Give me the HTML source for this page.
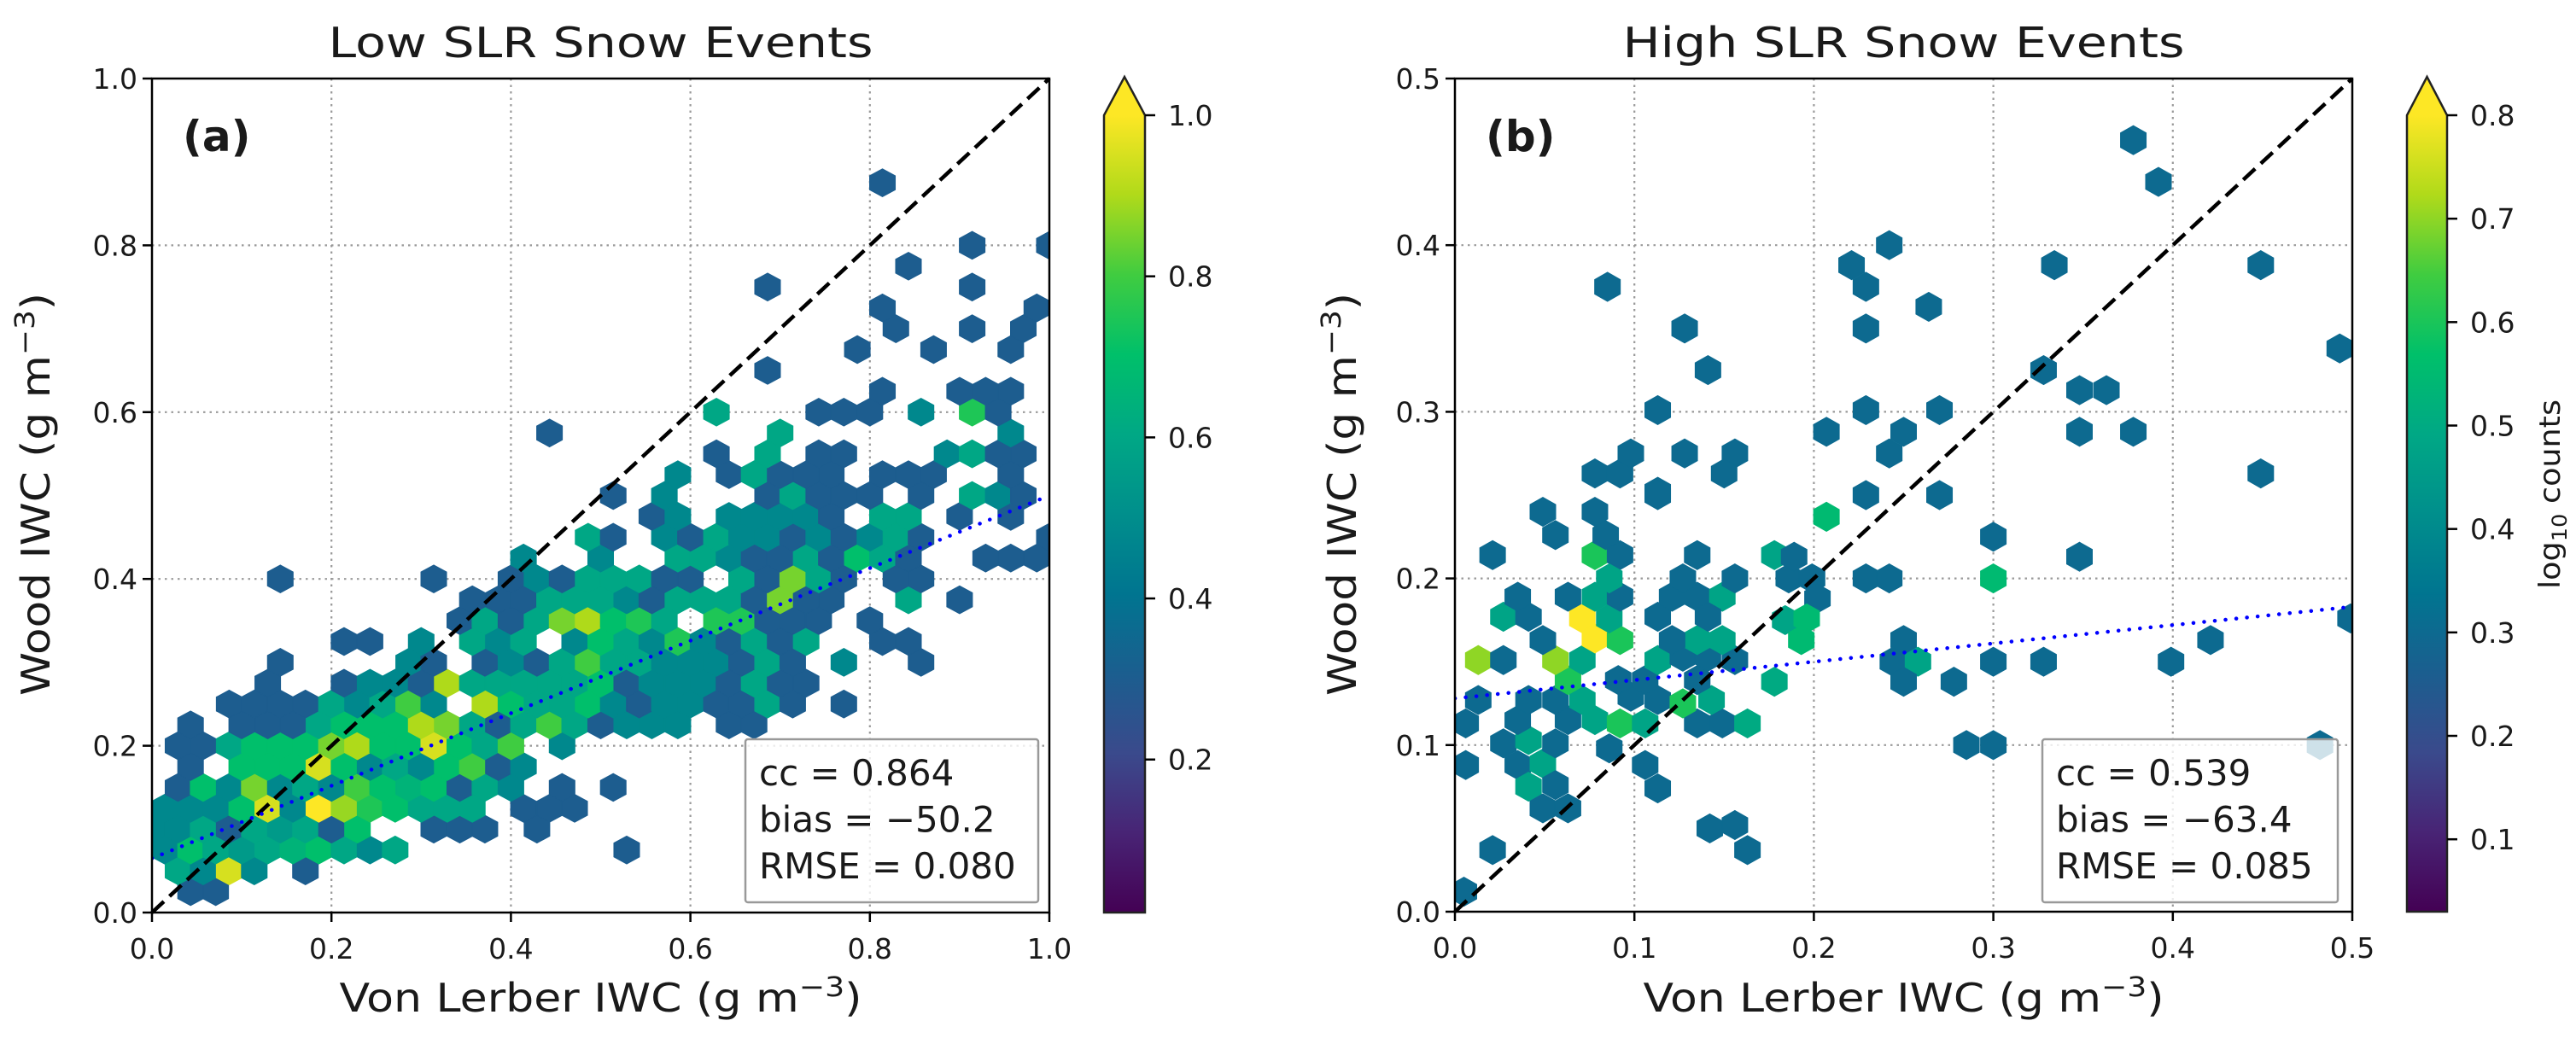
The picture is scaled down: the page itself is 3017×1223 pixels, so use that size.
<!DOCTYPE html>
<html>
<head>
<meta charset="utf-8">
<style>
  html,body{margin:0;padding:0;background:#fff;}
  svg{display:block;}
  text{font-family:"DejaVu Sans","Liberation Sans",sans-serif;fill:#1a1a1a;}
</style>
</head>
<body>
<svg id="fig" width="3017" height="1223" viewBox="0 0 3017 1223" xmlns="http://www.w3.org/2000/svg">
  <defs>
    <clipPath id="clipA"><rect x="178" y="92" width="1051" height="977"/></clipPath>
    <clipPath id="clipB"><rect x="1704" y="92" width="1051" height="976"/></clipPath>
    <linearGradient id="viridisGrad" x1="0" y1="1" x2="0" y2="0">
      <stop offset="0" stop-color="#440154"/><stop offset="0.1" stop-color="#482475"/>
      <stop offset="0.2" stop-color="#3a4a8c"/><stop offset="0.3" stop-color="#1b5e8f"/>
      <stop offset="0.4" stop-color="#007590"/><stop offset="0.5" stop-color="#008f8c"/>
      <stop offset="0.6" stop-color="#00a885"/><stop offset="0.7" stop-color="#00c06a"/>
      <stop offset="0.8" stop-color="#40cc40"/><stop offset="0.9" stop-color="#b0da1a"/>
      <stop offset="1" stop-color="#fde725"/>
    </linearGradient>
  </defs>
  <g id="panelA"></g>
  <g id="panelB"></g>
</svg>
<script>
// ---------- Panel (a) data: hexbin rows (bin-centre y, bin-centre x list, log10 counts) ----------
const lowRowY = [0.025,0.05,0.075,0.1,0.125,0.15,0.175,0.2,0.225,0.25,0.275,0.3,0.325,0.35,0.375,0.4,0.425,0.45,0.475,0.5,0.525,0.55,0.575,0.6,0.625,0.65,0.675,0.7,0.725,0.75,0.775,0.8,0.875];
const lowRowX = [
 [.043,.071],
 [.029,.057,.086,.114,.171],
 [.014,.043,.071,.1,.129,.157,.186,.214,.243,.271,.529],
 [0,.029,.057,.086,.114,.143,.171,.2,.229,.314,.343,.371,.429],
 [.014,.043,.071,.1,.129,.157,.186,.214,.243,.271,.3,.329,.357,.414,.443,.471],
 [.029,.057,.086,.114,.143,.171,.2,.229,.257,.286,.314,.343,.371,.4,.457,.514],
 [.043,.1,.129,.157,.186,.214,.243,.271,.3,.329,.357,.386,.414],
 [.029,.057,.086,.114,.143,.171,.2,.229,.257,.286,.314,.343,.371,.4,.457],
 [.043,.1,.129,.157,.186,.214,.243,.271,.3,.329,.357,.386,.414,.443,.471,.5,.529,.557,.586,.643,.671],
 [.086,.114,.143,.171,.2,.229,.257,.286,.314,.371,.4,.429,.457,.486,.514,.543,.571,.6,.629,.657,.686,.714,.771],
 [.129,.214,.243,.271,.3,.329,.357,.386,.414,.443,.471,.5,.529,.557,.586,.614,.643,.671,.7,.729],
 [.143,.286,.314,.371,.4,.429,.457,.486,.514,.543,.571,.6,.629,.657,.686,.714,.771,.857],
 [.214,.243,.3,.357,.386,.414,.471,.5,.529,.557,.586,.614,.643,.671,.7,.729,.814,.843],
 [.343,.371,.4,.429,.457,.486,.514,.543,.571,.629,.657,.686,.714,.743,.8],
 [.357,.386,.414,.443,.471,.5,.529,.557,.586,.614,.643,.671,.7,.729,.757,.843,.9],
 [.143,.314,.4,.429,.457,.486,.514,.543,.571,.6,.657,.686,.714,.743,.771,.829,.857],
 [.414,.5,.586,.614,.643,.671,.7,.729,.757,.786,.814,.843,.929,.957,.986],
 [.486,.514,.571,.6,.629,.657,.686,.714,.743,.771,.8,.829,.857,1.0],
 [.557,.586,.643,.671,.7,.729,.757,.814,.843,.9,.957],
 [.514,.571,.686,.714,.743,.771,.8,.857,.914,.943,.971],
 [.586,.643,.671,.7,.729,.757,.814,.843,.871,.957],
 [.629,.686,.743,.771,.886,.914,.943,.971],
 [.443,.7,.957],
 [.629,.743,.771,.8,.857,.914,.943],
 [.814,.9,.929,.957],
 [.686],
 [.786,.871,.957],
 [.829,.914,.971],
 [.814,.986],
 [.686,.914],
 [.843],
 [.914,1.0],
 [.814]
];
const lowRowV = [
 [.3,.3],
 [.6,.48,.95,.48,.3],
 [.48,.7,.6,.55,.6,.65,.7,.6,.48,.6,.3],
 [.48,.48,.6,.3,.6,.55,.6,.3,.7,.3,.3,.3,.3],
 [.48,.48,.48,.7,.95,.48,1,.88,.75,.7,.6,.6,.6,.3,.3,.3],
 [.3,.7,.48,.85,.48,.6,.48,.8,.7,.65,.7,.3,.6,.48,.3,.3],
 [.3,.7,.7,.7,.95,.7,.48,.6,.48,.7,.8,.3,.48],
 [.3,.3,.6,.7,.7,.7,.85,.9,.7,.7,.95,.7,.6,.8,.48],
 [.3,.3,.3,.3,.6,.7,.7,.7,.9,.85,.6,.3,.6,.8,.6,.3,.48,.48,.48,.3,.3],
 [.3,.3,.3,.3,.6,.48,.6,.8,.48,.9,.7,.6,.6,.7,.48,.3,.48,.48,.3,.3,.6,.3,.3],
 [.3,.3,.48,.48,.3,.9,.6,.6,.6,.6,.6,.7,.3,.48,.48,.48,.3,.6,.3,.3],
 [.3,.48,.3,.3,.48,.3,.6,.8,.6,.6,.48,.48,.48,.3,.6,.3,.48,.3],
 [.3,.3,.48,.6,.48,.6,.48,.7,.6,.48,.75,.48,.3,.6,.3,.6,.3,.3],
 [.3,.6,.3,.6,.85,.9,.7,.75,.6,.75,.75,.3,.3,.3,.3],
 [.3,.3,.3,.6,.6,.6,.48,.3,.6,.6,.6,.3,.85,.3,.3,.6,.3],
 [.3,.3,.3,.48,.3,.6,.6,.6,.3,.3,.6,.3,.85,.6,.3,.3,.3],
 [.48,.48,.6,.6,.48,.3,.3,.6,.3,.7,.6,.3,.3,.3,.3],
 [.6,.3,.48,.3,.6,.48,.48,.3,.48,.3,.48,.6,.3,.3],
 [.3,.48,.48,.48,.48,.48,.3,.6,.6,.3,.3],
 [.3,.48,.3,.6,.3,.3,.3,.3,.6,.48,.3],
 [.48,.3,.6,.3,.3,.3,.3,.3,.3,.3],
 [.3,.6,.3,.3,.48,.6,.3,.3],
 [.3,.6,.48],
 [.6,.3,.3,.3,.48,.75,.3],
 [.3,.3,.3,.3],
 [.3],
 [.3,.3,.3],
 [.3,.3,.3],
 [.3,.3],
 [.3,.3],
 [.3],
 [.3,.3],
 [.3]
];
// ---------- Panel (b) data: hexbin bin centres and log10 counts ----------
const highX = [0.005,0.021,0.006,0.035,0.049,0.041,0.056,0.049,0.063,0.027,0.041,0.056,0.086,0.106,0.113,0.142,0.156,0.163,0.006,0.035,0.063,0.078,0.092,0.106,0.135,0.149,0.163,0.013,0.041,0.056,0.071,0.098,0.113,0.127,0.143,0.063,0.091,0.106,0.135,0.178,0.013,0.027,0.056,0.071,0.113,0.127,0.141,0.156,0.027,0.041,0.049,0.071,0.078,0.092,0.086,0.035,0.063,0.078,0.092,0.113,0.121,0.135,0.149,0.135,0.149,0.121,0.141,0.135,0.156,0.127,0.178,0.186,0.184,0.078,0.092,0.084,0.078,0.049,0.056,0.021,0.086,0.113,0.078,0.092,
 0.378,0.392,0.242,0.334,0.449,0.221,0.229,0.085,0.264,0.128,0.229,0.493,0.141,0.328,0.348,0.363,0.113,0.229,0.270,0.207,0.250,0.348,0.378,0.098,0.128,0.156,0.242,0.150,0.449,0.113,0.229,0.270,0.207,0.300,0.348,0.300,0.229,0.242,0.399,0.421,0.300,0.328,0.278,0.250,0.244,0.258,0.250,0.499,0.285,0.300,0.482,0.189,0.199,0.202,0.196,0.193];
const highY = [0.012,0.037,0.088,0.088,0.089,0.075,0.076,0.062,0.062,0.101,0.103,0.101,0.098,0.088,0.074,0.050,0.052,0.037,0.113,0.115,0.115,0.115,0.113,0.113,0.113,0.113,0.113,0.127,0.127,0.127,0.127,0.129,0.127,0.125,0.127,0.139,0.139,0.139,0.139,0.138,0.151,0.151,0.151,0.151,0.151,0.153,0.153,0.151,0.177,0.177,0.163,0.176,0.164,0.163,0.176,0.189,0.189,0.189,0.189,0.177,0.189,0.189,0.189,0.163,0.163,0.163,0.177,0.214,0.200,0.200,0.214,0.200,0.175,0.214,0.214,0.226,0.240,0.240,0.226,0.214,0.200,0.252,0.263,0.263,
 0.463,0.438,0.400,0.388,0.388,0.388,0.375,0.375,0.363,0.350,0.350,0.338,0.325,0.325,0.313,0.313,0.301,0.301,0.301,0.288,0.288,0.288,0.288,0.275,0.275,0.275,0.275,0.263,0.263,0.250,0.250,0.250,0.237,0.225,0.213,0.200,0.200,0.200,0.150,0.163,0.150,0.150,0.138,0.163,0.150,0.150,0.138,0.176,0.100,0.100,0.100,0.213,0.200,0.188,0.176,0.163];
const highV = [.3,.3,.3,.3,.48,.48,.3,.3,.3,.3,.48,.3,.3,.3,.3,.3,.3,.3,.3,.3,.3,.48,.6,.48,.3,.3,.5,.3,.3,.3,.48,.3,.3,.6,.48,.6,.3,.3,.3,.5,.7,.3,.7,.48,.48,.3,.3,.3,.48,.3,.3,.8,.8,.6,.48,.3,.3,.48,.3,.3,.3,.3,.48,.48,.48,.3,.3,.3,.3,.3,.48,.3,.48,.6,.3,.3,.3,.3,.3,.3,.48,.3,.3,.3,
 .3,.3,.3,.3,.3,.3,.3,.3,.3,.3,.3,.3,.3,.3,.3,.3,.3,.3,.3,.3,.3,.3,.3,.3,.3,.3,.3,.3,.3,.3,.3,.3,.55,.3,.3,.55,.3,.3,.3,.3,.3,.3,.3,.3,.3,.48,.3,.3,.3,.3,.3,.3,.3,.3,.55,.55];
// ---------- axis ticks, fits, stats ----------
const lowTicks = [0,0.2,0.4,0.6,0.8,1.0];
const lowTickLabels = ['0.0','0.2','0.4','0.6','0.8','1.0'];
const highTicks = [0,0.1,0.2,0.3,0.4,0.5];
const highTickLabels = ['0.0','0.1','0.2','0.3','0.4','0.5'];
const lowCbTicks = [0.2,0.4,0.6,0.8,1.0];
const lowCbLabels = ['0.2','0.4','0.6','0.8','1.0'];
const highCbTicks = [0.1,0.2,0.3,0.4,0.5,0.6,0.7,0.8];
const highCbLabels = ['0.1','0.2','0.3','0.4','0.5','0.6','0.7','0.8'];
const lowFit = [0.065, 0.435];   // intercept, slope
const highFit = [0.128, 0.11];
const lowStats = ['cc = 0.864','bias = \u221250.2','RMSE = 0.080'];
const highStats = ['cc = 0.539','bias = \u221263.4','RMSE = 0.085'];

const NS = 'http://www.w3.org/2000/svg';
const vStops = ['#440154','#482475','#3a4a8c','#1b5e8f','#007590','#008f8c','#00a885','#00c06a','#40cc40','#b0da1a','#fde725'];
function hex2rgb(h){return [parseInt(h.slice(1,3),16),parseInt(h.slice(3,5),16),parseInt(h.slice(5,7),16)];}
function viridis(t){
  t=Math.max(0,Math.min(1,t));
  const p=t*10, i=Math.min(9,Math.floor(p)), f=p-i;
  const a=hex2rgb(vStops[i]), b=hex2rgb(vStops[i+1]);
  return 'rgb('+a.map((c,k)=>Math.round(c+(b[k]-c)*f)).join(',')+')';
}
function mk(tag, attrs, parent){
  const e=document.createElementNS(NS,tag);
  for(const k in attrs) e.setAttribute(k,attrs[k]);
  parent.appendChild(e); return e;
}

function drawPanel(cfg){
  const g=document.getElementById(cfg.id);
  const X=v=>cfg.x0+(v-cfg.xmin)/(cfg.xmax-cfg.xmin)*(cfg.x1-cfg.x0);
  const Y=v=>cfg.y0-(v-cfg.xmin)/(cfg.xmax-cfg.xmin)*(cfg.y0-cfg.y1);
  const W=cfg.x1-cfg.x0, H=cfg.y0-cfg.y1;
  cfg.ticks.forEach((t,i)=>{
    if(i===0||i===cfg.ticks.length-1) return;
    const gx=mk('line',{x1:X(t),y1:cfg.y1,x2:X(t),y2:cfg.y0,stroke:'#999','stroke-width':2.2,'stroke-dasharray':'2.5 5'},g);
    
    
    const gy=mk('line',{x1:cfg.x0,y1:Y(t),x2:cfg.x1,y2:Y(t),stroke:'#999','stroke-width':2.2,'stroke-dasharray':'2.5 5'},g);
    
    
  });
  const hg=mk('g',{'clip-path':'url(#'+cfg.clip+')'},g);
  
  
  const hw=cfg.hexW/2, hv=cfg.hexSy/3, hs=cfg.hexSy/6;
  cfg.cells.forEach(c=>{
    const cx=X(c[0]), cy=Y(c[1]);
    const d='M'+(cx+hw)+','+(cy+hs)+'L'+(cx+hw)+','+(cy-hs)+'L'+cx+','+(cy-hv)+'L'+(cx-hw)+','+(cy-hs)+'L'+(cx-hw)+','+(cy+hs)+'L'+cx+','+(cy+hv)+'Z';
    const col=viridis((c[2]-cfg.vmin)/(cfg.vmax-cfg.vmin));
    const p=mk('path',{d:d,fill:col,stroke:col,'stroke-width':1},hg);
    
    
  });
  const one=mk('line',{x1:X(cfg.xmin),y1:Y(cfg.xmin),x2:X(cfg.xmax),y2:Y(cfg.xmax),stroke:'#000','stroke-width':4.5,'stroke-dasharray':'19 9'},g);
  
  
  const fit=mk('line',{x1:X(cfg.xmin),y1:Y(cfg.fit[0]+cfg.fit[1]*cfg.xmin),x2:X(cfg.xmax),y2:Y(cfg.fit[0]+cfg.fit[1]*cfg.xmax),stroke:'#0000ff','stroke-width':4.5,'stroke-dasharray':'0.1 12.5','stroke-linecap':'round','clip-path':'url(#'+cfg.clip+')'},g);
  
  
  const fr=mk('rect',{x:cfg.x0,y:cfg.y1,width:W,height:H,fill:'none',stroke:'#000','stroke-width':2.5},g);
  
  
  cfg.ticks.forEach((t,i)=>{
    const tx=mk('line',{x1:X(t),y1:cfg.y0,x2:X(t),y2:cfg.y0+11,stroke:'#000','stroke-width':2.5},g);
    
    
    const lx=mk('text',{x:X(t),y:cfg.y0+54,'font-size':33,'text-anchor':'middle'},g);
    lx.textContent=cfg.tickLabels[i];
    
    
    const ty=mk('line',{x1:cfg.x0-11,y1:Y(t),x2:cfg.x0,y2:Y(t),stroke:'#000','stroke-width':2.5},g);
    
    
    const ly=mk('text',{x:cfg.x0-17,y:Y(t)+12,'font-size':33,'text-anchor':'end'},g);
    ly.textContent=cfg.tickLabels[i];
    
    
  });
  const cxm=(cfg.x0+cfg.x1)/2;
  const ti=mk('text',{x:cxm,y:67,'font-size':49,'text-anchor':'middle',textLength:cfg.titleLen,lengthAdjust:'spacingAndGlyphs'},g);
  ti.textContent=cfg.title;
  
  
  const xl=mk('text',{x:cxm,y:1185,'font-size':46,'text-anchor':'middle',textLength:cfg.xlabLen,lengthAdjust:'spacingAndGlyphs'},g);
  xl.innerHTML='Von Lerber IWC (g m<tspan dy="-18" font-size="32">\u22123</tspan><tspan dy="18">)</tspan>';
  
  
  const yl=mk('text',{x:0,y:0,'font-size':46,'text-anchor':'middle',textLength:472,lengthAdjust:'spacingAndGlyphs',transform:'translate('+cfg.ylabX+',579) rotate(-90)'},g);
  yl.innerHTML='Wood IWC (g m<tspan dy="-18" font-size="32">\u22123</tspan><tspan dy="18">)</tspan>';
  
  
  const pl=mk('text',{x:cfg.x0+36,y:177,'font-size':50,'font-weight':'bold'},g);
  pl.textContent=cfg.letter;
  
  
  const bx=mk('rect',{x:cfg.box[0],y:866,width:cfg.box[1]-cfg.box[0],height:191,fill:'#fff','fill-opacity':0.8,stroke:'#999','stroke-width':2.5,rx:3},g);
  
  
  cfg.stats.forEach((s,i)=>{
    const st=mk('text',{x:cfg.box[0]+16,y:920+i*54.5,'font-size':42},g);
    st.textContent=s;
    
    
  });
  const cb=cfg.cb;
  const CY=v=>cb.y0-(v-cfg.vmin)/(cfg.vmax-cfg.vmin)*(cb.y0-cb.ytop);
  const bar=mk('rect',{x:cb.x0,y:cb.ytop,width:cb.x1-cb.x0,height:cb.y0-cb.ytop,fill:'url(#viridisGrad)'},g);
  
  
  const ext=mk('path',{d:'M'+cb.x0+','+cb.ytop+'L'+((cb.x0+cb.x1)/2)+',90L'+cb.x1+','+cb.ytop+'Z',fill:'#fde725'},g);
  
  
  const ol=mk('path',{d:'M'+cb.x0+','+cb.y0+'L'+cb.x0+','+cb.ytop+'L'+((cb.x0+cb.x1)/2)+',90L'+cb.x1+','+cb.ytop+'L'+cb.x1+','+cb.y0+'Z',fill:'none',stroke:'#222','stroke-width':2.5},g);
  
  
  cb.ticks.forEach((t,i)=>{
    const ct=mk('line',{x1:cb.x1,y1:CY(t),x2:cb.x1+12,y2:CY(t),stroke:'#000','stroke-width':2.5},g);
    
    
    const cl=mk('text',{x:cb.x1+27,y:CY(t)+12,'font-size':33},g);
    cl.textContent=cb.labels[i];
    
    
  });
  if(cb.label){
    const cbl=mk('text',{x:0,y:0,'font-size':34,'text-anchor':'middle',fill:'#333',textLength:222,lengthAdjust:'spacingAndGlyphs',transform:'translate(2998,579) rotate(-90)'},g);
    cbl.innerHTML='log<tspan dy="8" font-size="24">10</tspan><tspan dy="-8"> counts</tspan>';
    
    
  }
}

const lowCells=[];
lowRowY.forEach((y,r)=>lowRowX[r].forEach((x,k)=>lowCells.push([x,y,lowRowV[r][k]])));
const highCells=highX.map((x,i)=>[x,highY[i],highV[i]]);

drawPanel({id:'panelA',clip:'clipA',x0:178,x1:1229,y0:1069,y1:92,xmin:0,xmax:1,
  ticks:lowTicks,tickLabels:lowTickLabels,cells:lowCells,hexW:30.03,hexSy:48.85,vmin:0.01,vmax:1.0,
  fit:lowFit,title:'Low SLR Snow Events',titleLen:638,xlabLen:612,ylabX:58,letter:'(a)',
  box:[873,1216],stats:lowStats,
  cb:{x0:1293,x1:1341,y0:1069,ytop:135,ticks:lowCbTicks,labels:lowCbLabels,label:false}});
drawPanel({id:'panelB',clip:'clipB',x0:1704,x1:2755,y0:1068,y1:92,xmin:0,xmax:0.5,
  ticks:highTicks,tickLabels:highTickLabels,cells:highCells,hexW:30,hexSy:51,vmin:0.03,vmax:0.8,
  fit:highFit,title:'High SLR Snow Events',titleLen:658,xlabLen:610,ylabX:1588,letter:'(b)',
  box:[2392,2738],stats:highStats,
  cb:{x0:2819,x1:2866,y0:1068,ytop:135,ticks:highCbTicks,labels:highCbLabels,label:true}});
</script>
</body>
</html>
